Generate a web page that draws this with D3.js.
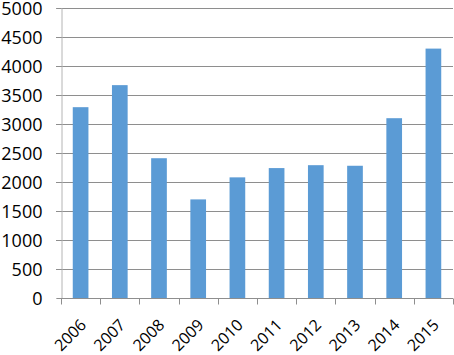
<!DOCTYPE html>
<html>
<head>
<meta charset="utf-8">
<script src="https://cdn.jsdelivr.net/npm/d3@7"></script>
<style>
  html, body { margin: 0; padding: 0; background: #fff; }
  svg text { font-family: "Open Sans", "Liberation Sans", sans-serif; fill: #000; }
</style>
</head>
<body>
<svg id="chart"></svg>
<script>
// Chart data
const years = ["2006", "2007", "2008", "2009", "2010", "2011", "2012", "2013", "2014", "2015"];
const values = [3290, 3670, 2410, 1700, 2080, 2240, 2290, 2280, 3100, 4300];
const yTicks = [0, 500, 1000, 1500, 2000, 2500, 3000, 3500, 4000, 4500, 5000];

const config = {
  margin: { top: 8, right: 1, bottom: 57, left: 61 },
  width: 454,
  height: 355
};

const width = config.width - config.margin.left - config.margin.right;
const height = config.height - config.margin.top - config.margin.bottom;

const svg = d3.select("#chart")
  .attr("width", config.width)
  .attr("height", config.height)
  .append("g")
  .attr("transform", `translate(${config.margin.left},${config.margin.top})`);

// Scales
const xScale = d3.scaleBand()
  .domain(years)
  .range([0, width])
  .paddingInner(0.6)
  .paddingOuter(0.3);

const yScale = d3.scaleLinear()
  .domain([0, 5000])
  .range([height, 0]);

// Gridlines
svg.append("g")
  .selectAll("line")
  .data(yTicks.filter(d => d > 0))
  .enter().append("line")
  .attr("x1", -5)
  .attr("x2", width)
  .attr("y1", d => Math.round(yScale(d)) + 0.5)
  .attr("y2", d => Math.round(yScale(d)) + 0.5)
  .attr("stroke", "#8e8e8e")
  .attr("stroke-width", 1);

// Bars
svg.selectAll("rect.bar")
  .data(values)
  .enter().append("rect")
  .attr("class", "bar")
  .attr("x", (d, i) => xScale(years[i]))
  .attr("y", d => yScale(d))
  .attr("width", xScale.bandwidth())
  .attr("height", d => height - yScale(d))
  .attr("fill", "#5b9bd5");

// Y axis
const yAxis = svg.append("g")
  .attr("transform", "translate(0.5,0)")
  .call(d3.axisLeft(yScale).tickValues(yTicks).tickFormat(d3.format("d")).tickSize(5).tickPadding(14));
yAxis.select(".domain").attr("stroke", "#b4b4b4");
yAxis.selectAll(".tick line").attr("stroke", "#8e8e8e");
yAxis.selectAll("text").style("font-size", "18px").attr("dy", "0.36em");

// X axis with ticks at band boundaries
const step = xScale.step();
const boundaries = d3.range(years.length + 1).map(i => i * step);

const xAxis = svg.append("g")
  .attr("transform", `translate(0,${Math.round(height) + 0.5})`);

xAxis.append("line")
  .attr("x1", 0)
  .attr("x2", width)
  .attr("stroke", "#8e8e8e");

xAxis.selectAll("line.tick")
  .data(boundaries)
  .enter().append("line")
  .attr("class", "tick")
  .attr("x1", d => Math.round(d) + 0.5)
  .attr("x2", d => Math.round(d) + 0.5)
  .attr("y1", 0)
  .attr("y2", 6)
  .attr("stroke", "#8e8e8e");

xAxis.selectAll("text")
  .data(years)
  .enter().append("text")
  .attr("transform", d => `translate(${xScale(d) + xScale.bandwidth() / 2 - 10.5},${36.5}) rotate(-45)`)
  .attr("text-anchor", "middle")
  .attr("dy", "0.36em")
  .style("font-size", "16px")
  .text(d => d);
</script>
</body>
</html>
